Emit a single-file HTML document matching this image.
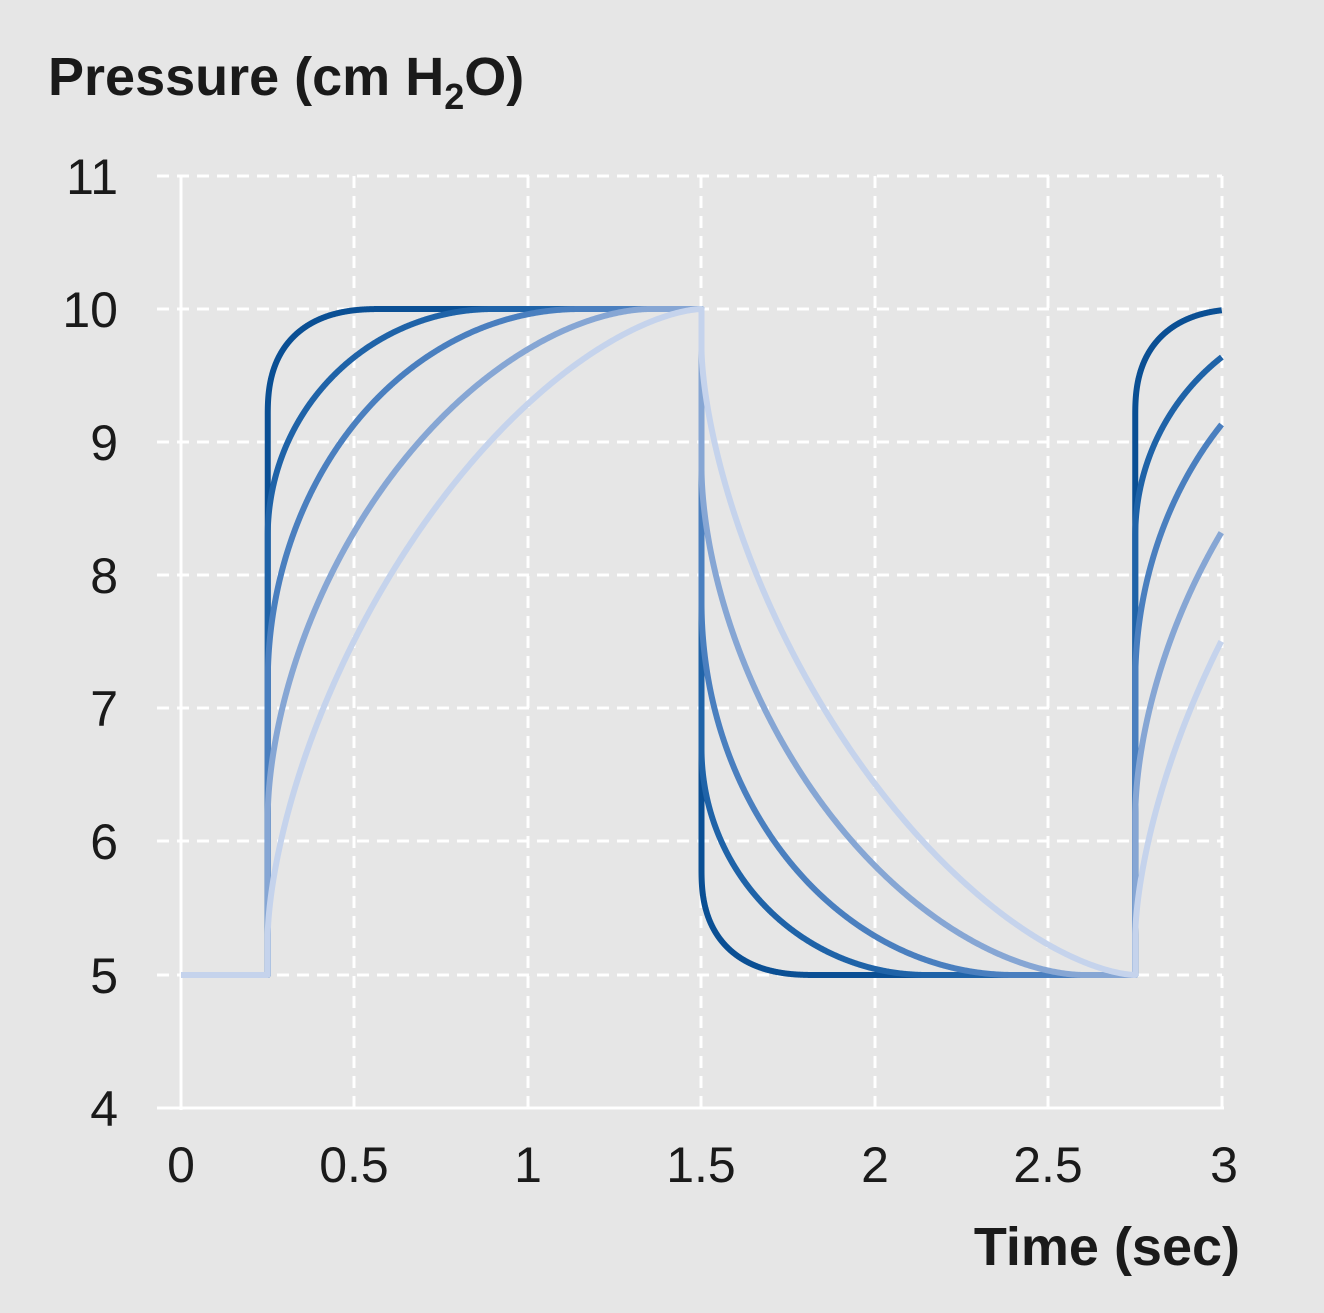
<!DOCTYPE html>
<html><head><meta charset="utf-8"><style>
html,body{margin:0;padding:0;background:#e6e6e6}
svg{display:block}
text{font-family:"Liberation Sans",sans-serif;fill:#1a1a1a}
</style></head><body>
<svg id="s" width="1324" height="1313" viewBox="0 0 1324 1313">
<rect width="1324" height="1313" fill="#e6e6e6"/>
<g stroke="#fff" stroke-width="3" stroke-dasharray="12,8" fill="none">
<line x1="157" y1="176" x2="1222" y2="176"/>
<line x1="157" y1="309" x2="1222" y2="309"/>
<line x1="157" y1="442" x2="1222" y2="442"/>
<line x1="157" y1="575" x2="1222" y2="575"/>
<line x1="157" y1="708" x2="1222" y2="708"/>
<line x1="157" y1="841" x2="1222" y2="841"/>
<line x1="157" y1="975" x2="1222" y2="975"/>
<line x1="354" y1="176" x2="354" y2="1108"/>
<line x1="528" y1="176" x2="528" y2="1108"/>
<line x1="701" y1="176" x2="701" y2="1108"/>
<line x1="875" y1="176" x2="875" y2="1108"/>
<line x1="1048" y1="176" x2="1048" y2="1108"/>
<line x1="1222" y1="176" x2="1222" y2="1108"/>
</g>
<g stroke="#fff" stroke-width="3">
<line x1="181" y1="176" x2="181" y2="1110"/>
<line x1="157" y1="1108" x2="1224" y2="1108"/>
</g>
<g id="curves" fill="none" stroke-width="6" stroke-linejoin="round"></g>
<g font-size="50" text-anchor="end">
<text x="118" y="194">11</text><text x="118" y="327">10</text>
<text x="118" y="460">9</text><text x="118" y="593">8</text>
<text x="118" y="726">7</text><text x="118" y="859">6</text>
<text x="118" y="993">5</text><text x="118" y="1126">4</text>
</g>
<g font-size="50" text-anchor="middle">
<text x="181" y="1182">0</text><text x="354" y="1182">0.5</text>
<text x="528" y="1182">1</text><text x="701" y="1182">1.5</text>
<text x="875" y="1182">2</text><text x="1048" y="1182">2.5</text>
<text x="1224" y="1182">3</text>
</g>
<text x="48" y="95" font-size="54" font-weight="bold">Pressure (cm H<tspan font-size="36" dy="14">2</tspan><tspan dy="-14">O)</tspan></text>
<text x="1240" y="1265" font-size="54" font-weight="bold" text-anchor="end">Time (sec)</text>
</svg>
<script>
var X=function(t){return 181+t*347;},Y=function(p){return 975-(p-5)*133.2;};
var C=[["#0a4f94",0.33,2.5,0.84],["#1f63a8",0.65,2,0.66],["#4a7fbf",0.9,2,0.44],["#86a6d4",1.1,1.75,0.24],["#c5d3ec",1.25,1.6,0.06]];
var g=document.getElementById('curves'),h='';
function seg(t0,T,a,jf,rise,tmax){var d='';var N=400;var R=5*(1-jf);
 for(var i=0;i<=N;i++){var th=i/N*Math.PI/2;var c=Math.cos(th),s=Math.sin(th);
  var sd=1-Math.pow(c,2/a), v=Math.pow(s,2/a);
  var t=t0+sd*T; if(t>tmax){break;}
  var off=5*jf+R*v;
  var p=rise?5+off:10-off; d+=' L'+X(t).toFixed(2)+','+Y(p).toFixed(2);}
 return d;}
C.forEach(function(c){var T=c[1],a=c[2],jf=c[3];
var d='M'+X(0)+','+Y(5)+' L'+X(0.25)+','+Y(5);
d+=seg(0.25,T,a,jf,true,1.5);
d+=' L'+X(1.5)+','+Y(10);
d+=seg(1.5,T,a,jf,false,2.75);
d+=' L'+X(2.75)+','+Y(5);
d+=seg(2.75,T,a,jf,true,3.0);
h+='<path d="'+d+'" stroke="'+c[0]+'"/>';});
g.innerHTML=h;
</script>
</body></html>
